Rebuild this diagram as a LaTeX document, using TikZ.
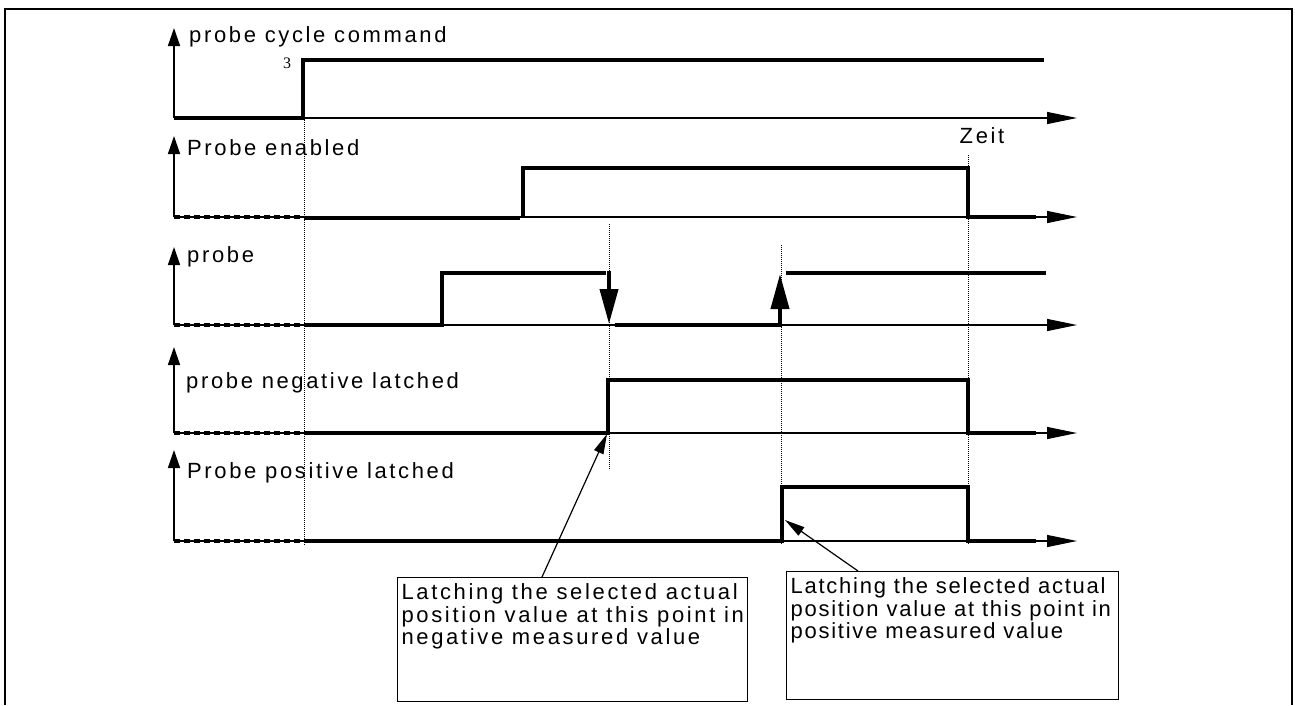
\documentclass[tikz,border=0pt]{standalone}
\usepackage{fontspec}
\setmainfont{Liberation Sans}
\newfontfamily\lab[LetterSpace=12]{Liberation Sans}
\newfontfamily\labB[LetterSpace=8]{Liberation Sans}
\newfontfamily\serifnum{Liberation Serif}
\usetikzlibrary{arrows.meta}
\begin{document}
\begin{tikzpicture}[x=1pt,y=-1pt,
  sig/.style={line width=4pt},
  pre/.style={line width=4pt, dash pattern=on 6pt off 4pt},
  taxis/.style={line width=1.2pt, -{Triangle[length=30pt,width=12pt]}},
  vaxis/.style={line width=1.5pt, -{Triangle[length=18pt,width=12pt]}},
  guide/.style={line width=0.9pt, dash pattern=on 1pt off 1pt},
  edgearrow/.style={line width=4pt, -{Triangle[length=35pt,width=18pt]}},
  callout/.style={line width=1.2pt, -{Triangle[length=20pt,width=10pt]}},
  lbl/.style={anchor=base west, inner sep=0pt, font=\lab\fontsize{22}{26}\selectfont},
  notebox/.style={draw, line width=1.2pt, anchor=north west, inner xsep=4pt, inner ysep=6pt}
]
\useasboundingbox (0,0) rectangle (1295,705);
% frame
\draw[line width=2pt] (5,705) -- (5,9) -- (1292,9) -- (1292,705);

% guides
\draw[guide] (304,118) -- (304,546);
\draw[guide] (609,224) -- (609,469);
\draw[guide] (781,245) -- (781,545);
\draw[guide] (968,155) -- (968,545);

% row 1
\draw[vaxis] (174,118) -- (174,28);
\draw[taxis] (174,118) -- (1077,118);
\draw[sig] (174,118) -- (303,118) -- (303,60) -- (1044,60);
\node[lbl] (l1) at (189,42) {probe cycle command};
\node[anchor=base, inner sep=0pt, font=\serifnum\fontsize{16}{16}\selectfont] (three) at (287,68) {3};

% row 2
\draw[vaxis] (174,217) -- (174,136);
\draw[taxis] (174,217) -- (1077,217);
\draw[pre] (174,217) -- (304,217);
\draw[sig] (304,218) -- (520,218);
\draw[sig] (523,217) -- (523,168) -- (968,168) -- (968,217) -- (1036,217);
\node[lbl] (l2) at (187,155) {Probe enabled};
\node[lbl, anchor=base] (zeit) at (982,143) {Zeit};

% row 3
\draw[vaxis] (174,325) -- (174,247);
\draw[taxis] (174,325) -- (1077,325);
\draw[pre] (174,325) -- (304,325);
\draw[sig] (304,325) -- (442,325) -- (442,273) -- (606,273);
\draw[edgearrow] (609,271) -- (609,324);
\draw[sig] (615,325) -- (779,325);
\draw[edgearrow] (780,327) -- (780,274);
\draw[sig] (786,273) -- (1046,273);
\node[lbl] (l3) at (187,262) {probe};

% row 4
\draw[vaxis] (174,433) -- (174,347);
\draw[taxis] (174,433) -- (1077,433);
\draw[pre] (174,433) -- (304,433);
\draw[sig] (304,433) -- (608,433) -- (608,380) -- (968,380) -- (968,433) -- (1036,433);
\node[lbl] (l4) at (186,388) {probe negative latched};

% row 5
\draw[vaxis] (174,541) -- (174,450);
\draw[taxis] (174,541) -- (1077,541);
\draw[pre] (174,541) -- (304,541);
\draw[sig] (304,541) -- (782,541) -- (782,487) -- (968,487) -- (968,541) -- (1036,541);
\node[lbl] (l5) at (187,478) {Probe positive latched};

% callouts
\coordinate (negpt) at (607,434);
\coordinate (pospt) at (785,520);
\node[notebox, font=\lab\fontsize{22}{22.5}\selectfont] (box1) at (397,577)
  {\parbox[t][112pt][t]{342pt}{\mbox{Latching the selected actual}\\ \mbox{position value at this point in}\\ \mbox{negative measured value}}};
\node[notebox, font=\labB\fontsize{22}{22.5}\selectfont] (box2) at (786,571)
  {\parbox[t][116pt][t]{324pt}{\mbox{Latching the selected actual}\\ \mbox{position value at this point in}\\ \mbox{positive measured value}}};
\draw[callout] ([xshift=145pt]box1.north west) -- (negpt);
\draw[callout] ([xshift=72pt]box2.north west) -- (pospt);
\end{tikzpicture}
\end{document}
